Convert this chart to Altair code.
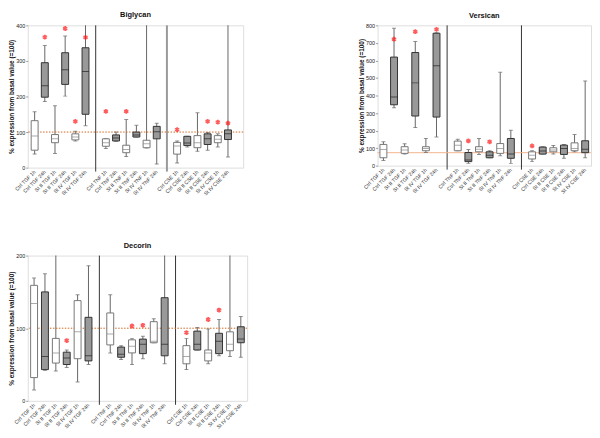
import altair as alt
import pandas as pd

categories = ["Ctrl TGF 1h", "Ctrl TGF 24h", "St II TGF 1h", "St II TGF 24h", "St IV TGF 1h", "St IV TGF 24h",
              "Ctrl TNF 1h", "Ctrl TNF 24h", "St II TNF 1h", "St II TNF 24h", "St IV TNF 1h", "St IV TNF 24h",
              "Ctrl CSE 1h", "Ctrl CSE 24h", "St II CSE 1h", "St II CSE 24h", "St IV CSE 1h", "St IV CSE 24h"]
timepoints = ["1h", "24h"] * 9
gap_slots = [" ", "  "]
slots = categories[0:6] + [gap_slots[0]] + categories[6:12] + [gap_slots[1]] + categories[12:18]

# Biglycan
big_min = [38, 186, 40, 201, 75, 118, 54, 74, 31, 86, 55, 10, 13, 58, 46, 49, 58, 30]
big_q1 = [49, 198, 70, 234, 78, 150, 60, 75, 42, 86, 56, 81, 38, 62, 56, 65, 70, 79]
big_med = [89, 230, 81, 275, 86, 270, 70, 83, 51, 92, 67, 101, 61, 69, 70, 81, 80, 95]
big_q3 = [132, 295, 93, 323, 95, 337, 81, 92, 63, 100, 77, 116, 71, 88, 90, 95, 90, 106]
big_max = [157, 343, 174, 370, 102, 450, 82, 100, 135, 119, 450, 125, 75, 88, 154, 99, 95, 450]
big_star = [None, 367, None, 391, 130, 366, 158, None, 158, None, None, None, 107, None, None, 130, 128, 125]

# Versican
ver_min = [30, 330, 66, 217, 75, 164, 85, 13, 64, 45, 57, 13, 23, 66, 66, 42, 79, 45]
ver_q1 = [45, 347, 70, 283, 85, 277, 85, 23, 79, 45, 70, 42, 38, 66, 79, 64, 85, 74]
ver_med = [92, 392, 89, 472, 98, 570, 117, 32, 94, 60, 98, 66, 60, 83, 89, 98, 98, 94]
ver_q3 = [121, 619, 108, 645, 108, 755, 140, 75, 108, 79, 126, 155, 79, 106, 102, 117, 130, 142]
ver_max = [136, 783, 125, 708, 155, 758, 151, 92, 155, 85, 532, 202, 85, 108, 115, 121, 177, 483]
ver_star = [None, 721, None, 764, None, 777, None, 141, None, 136, None, None, 113, None, None, None, None, None]

# Decorin
dec_min = [15, 42, 41, 46, 26, 50, 66, 57, 50, 58, 80, 51, 43, 70, 51, 62, 61, 60]
dec_q1 = [32, 43, 52, 50, 58, 55, 77, 60, 66, 65, 80, 62, 51, 70, 55, 65, 69, 80]
dec_med = [134, 61, 66, 59, 95, 62, 92, 64, 75, 78, 82, 78, 61, 78, 66, 82, 78, 85]
dec_q3 = [159, 150, 86, 67, 138, 115, 121, 74, 84, 85, 109, 142, 76, 96, 70, 93, 95, 102]
dec_max = [169, 175, 220, 70, 146, 186, 146, 76, 86, 89, 113, 220, 86, 101, 99, 112, 220, 116]
dec_star = [None, None, None, 83, None, None, None, None, 103, 104, None, None, 94, None, 112, 125, None, None]

ref_values = [100, 74, 100]

STAR = "M0,-1L0,1M-0.87,-0.5L0.87,0.5M-0.87,0.5L0.87,-0.5"
FONT = "Liberation Sans"


def panel(title, lo, q1, med, q3, hi, star, ymax, ystep, ref, ref_style, sep_styles,
          width, height, pad_outer, align):
    df = pd.DataFrame({"slot": categories, "tp": timepoints, "lo": lo, "q1": q1,
                       "med": med, "q3": q3, "hi": hi, "star": star})
    xscale = alt.Scale(domain=slots, paddingInner=0, paddingOuter=pad_outer, align=align)
    x = alt.X("slot:N", scale=xscale, sort=slots, title=None,
              axis=alt.Axis(labelAngle=-45, labelAlign="right", labelBaseline="middle",
                            labelFontSize=5.2, labelColor="#333", labelFont=FONT,
                            ticks=False, domain=False, labelPadding=3, labelOverlap=False))
    yscale = alt.Scale(domain=[0, ymax], nice=False, zero=True)
    y_axis = alt.Axis(values=list(range(0, ymax + 1, ystep)), labelFontSize=5.5, labelFont=FONT,
                      labelColor="#222", tickSize=2, tickColor="#999", domain=False, grid=False,
                      labelOverlap=False, labelFlush=False,
                      title="% expression from basal value (=100)", titleFontSize=6.5,
                      titleFont=FONT, titleFontWeight="bold", titleColor="#111", titlePadding=1,
                      labelPadding=1)
    base = alt.Chart(df)
    whisk = base.mark_rule(color="#666", strokeWidth=1, clip=True).encode(
        x=x, y=alt.Y("lo:Q", scale=yscale, axis=y_axis), y2="hi:Q")
    cap_lo = base.mark_tick(color="#666", size=4, thickness=1, clip=True).encode(
        x=x, y=alt.Y("lo:Q", scale=yscale, axis=y_axis))
    cap_hi = base.mark_tick(color="#666", size=4, thickness=1, clip=True).encode(
        x=x, y=alt.Y("hi:Q", scale=yscale, axis=y_axis))
    box = base.mark_bar(size=7, strokeWidth=1, clip=True).encode(
        x=x, y=alt.Y("q1:Q", scale=yscale, axis=y_axis), y2="q3:Q",
        fill=alt.Fill("tp:N", scale=alt.Scale(domain=["1h", "24h"], range=["white", "#999999"]),
                      legend=None),
        stroke=alt.Stroke("tp:N", scale=alt.Scale(domain=["1h", "24h"], range=["#777", "#333"]),
                          legend=None))
    medl = base.mark_tick(size=7, thickness=1, clip=True).encode(
        x=x, y=alt.Y("med:Q", scale=yscale, axis=y_axis),
        color=alt.Color("tp:N", scale=alt.Scale(domain=["1h", "24h"], range=["#888", "#222"]),
                        legend=None))
    stars = base.transform_filter("isValid(datum.star)").mark_point(
        shape=STAR, size=24, color="#ff1a1a", strokeWidth=1.7, filled=False).encode(
        x=x, y=alt.Y("star:Q", scale=yscale, axis=y_axis))
    refdf = pd.DataFrame({"ref": [ref]})
    refl = alt.Chart(refdf).mark_rule(**ref_style).encode(
        y=alt.Y("ref:Q", scale=yscale, axis=y_axis))
    seps = []
    for g, st in zip(gap_slots, sep_styles):
        sdf = pd.DataFrame({"slot": [g]})
        seps.append(alt.Chart(sdf).mark_rule(**st).encode(
            x=x, y=alt.value(0), y2=alt.value(height + 4)))
    layers = [whisk] + seps + [refl, cap_lo, cap_hi, box, medl, stars]
    return alt.layer(*layers).properties(
        width=width, height=height,
        title=alt.Title(title, fontSize=7.5, font=FONT, fontWeight="bold", color="#111", offset=4))


thin = {"color": "#333", "strokeWidth": 1}
thick = {"color": "#999", "strokeWidth": 2}
dotted = {"color": "#d2691e", "strokeWidth": 1, "strokeDash": [1.5, 1.5]}
solid_light = {"color": "#f2b48e", "strokeWidth": 1}

big = panel("Biglycan", big_min, big_q1, big_med, big_q3, big_max, big_star, 400, 100,
            ref_values[0], dotted, [thin, thick], 218, 144, 0.585, 0.15)
ver = panel("Versican", ver_min, ver_q1, ver_med, ver_q3, ver_max, ver_star, 800, 100,
            ref_values[1], solid_light, [thin, thin], 216, 142, 0.05, 0.5)
dec = panel("Decorin", dec_min, dec_q1, dec_med, dec_q3, dec_max, dec_star, 200, 100,
            ref_values[2], dotted, [thin, thin], 222, 147, 0.08, 0.5)

chart = alt.concat(big, ver, dec, columns=2, spacing={"row": 89, "column": 132},
                   bounds="flush").properties(padding=0).configure_view(
    stroke="#9a9a9a", strokeWidth=1.5).configure(background="white")

chart.save("out.html", embed_options={"renderer": "svg", "actions": False})
